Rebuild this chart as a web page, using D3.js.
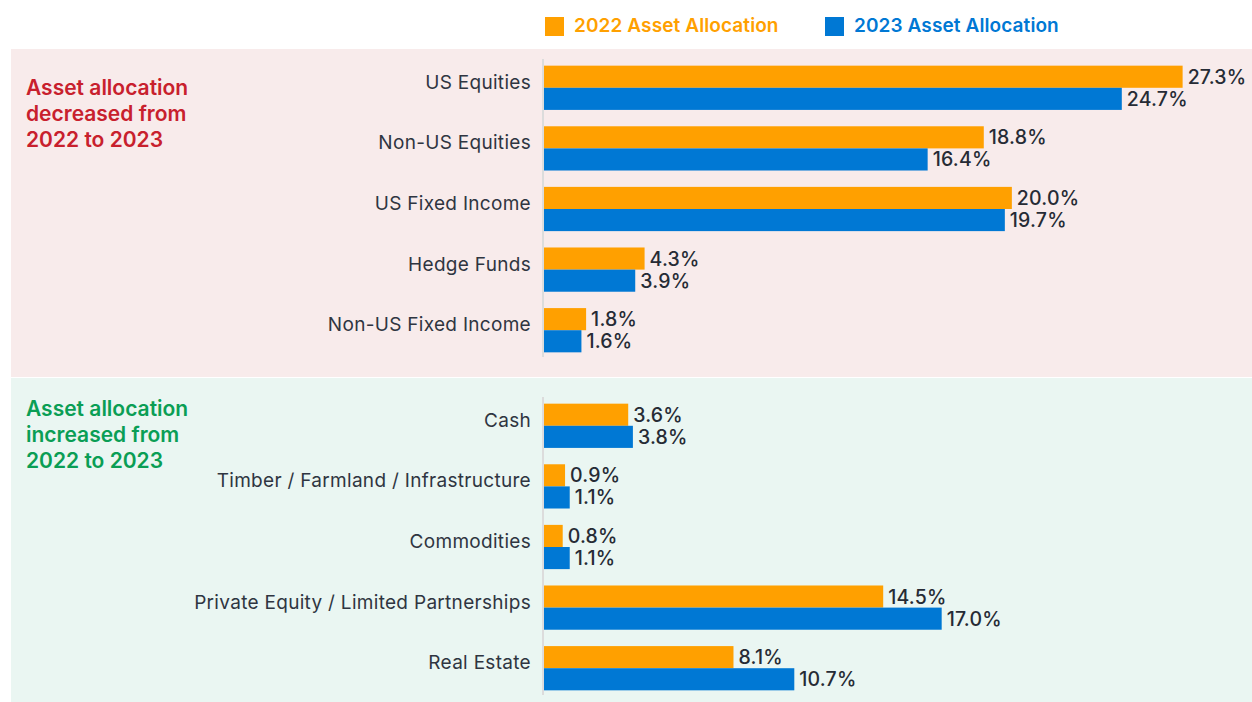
<!DOCTYPE html>
<html>
<head>
<meta charset="utf-8">
<script src="https://cdn.jsdelivr.net/npm/d3@7"></script>
<style>
  body { margin: 0; background: #fff; }
  svg { display: block; font-family: Inter, "Open Sans", sans-serif; }
</style>
</head>
<body>
<div id="chart"></div>
<script>
// data
var decreasedCats = ["US Equities", "Non-US Equities", "US Fixed Income", "Hedge Funds", "Non-US Fixed Income"];
var decreased2022 = [27.3, 18.8, 20.0, 4.3, 1.8];
var decreased2023 = [24.7, 16.4, 19.7, 3.9, 1.6];

var increasedCats = ["Cash", "Timber / Farmland / Infrastructure", "Commodities", "Private Equity / Limited Partnerships", "Real Estate"];
var increased2022 = [3.6, 0.9, 0.8, 14.5, 8.1];
var increased2023 = [3.8, 1.1, 1.1, 17.0, 10.7];

var seriesNames = ["2022 Asset Allocation", "2023 Asset Allocation"];
var seriesColors = ["#ffa000", "#0078d4"];

var width = 1252, height = 702;
var svg = d3.select('#chart').append('svg').attr('width', width).attr('height', height);

var x = d3.scaleLinear().domain([0, 28]).range([543, 1198]);

// legend
var legend = svg.append('g');
var legendX = [545, 825];
seriesNames.forEach(function(name, i){
    legend.append('rect').attr('x', legendX[i]).attr('y', 17).attr('width', 19).attr('height', 19)
        .style('fill', seriesColors[i]);
    legend.append('text').attr('x', legendX[i] + 29).attr('y', 32)
        .style('fill', seriesColors[i]).style('font-size', '19px').style('font-weight', 600)
        .style('letter-spacing', '0.1px')
        .text(name);
});

function panel(cfg){
    var g = svg.append('g');
    g.append('rect').attr('x', 11).attr('y', cfg.top).attr('width', width - 11).attr('height', cfg.bottom - cfg.top)
        .style('fill', cfg.bg);

    // section title
    var t = g.append('text').attr('x', 26).attr('y', cfg.titleY)
        .style('fill', cfg.titleColor).style('font-size', '21px').style('font-weight', 600);
    cfg.title.forEach(function(line, i){
        t.append('tspan').attr('x', 26).attr('dy', i === 0 ? 0 : 26).text(line);
    });

    var y = d3.scaleBand().domain(cfg.cats).range([cfg.y0, cfg.y0 + 300])
        .paddingInner(0.27).paddingOuter(0.11);
    var ySub = d3.scaleBand().domain([0, 1]).range([0, y.bandwidth()]);

    // axis line
    g.append('line').attr('x1', x(0)).attr('x2', x(0)).attr('y1', cfg.y0).attr('y2', cfg.y0 + 298)
        .style('stroke', '#dcdcdc').style('stroke-width', 2);

    var rows = cfg.cats.map(function(c, i){ return {cat: c, vals: [cfg.v2022[i], cfg.v2023[i]]}; });

    var row = g.selectAll('g.row').data(rows).enter().append('g').attr('class', 'row')
        .attr('transform', function(d){ return 'translate(0,' + y(d.cat) + ')'; });

    row.append('text')
        .attr('x', 531).attr('y', ySub.step() + 1)
        .attr('text-anchor', 'end')
        .style('fill', '#2f3541').style('font-size', '19px').style('letter-spacing', '0.3px')
        .text(function(d){ return d.cat; });

    var bar = row.selectAll('g.bar').data(function(d){ return d.vals; }).enter().append('g');
    bar.append('rect')
        .attr('x', x(0) + 1)
        .attr('y', function(d, i){ return ySub(i); })
        .attr('width', function(d){ return x(d) - x(0); })
        .attr('height', ySub.bandwidth())
        .style('fill', function(d, i){ return seriesColors[i]; });
    bar.append('text')
        .attr('x', function(d){ return x(d) + 6; })
        .attr('y', function(d, i){ return ySub(i) + ySub.bandwidth() / 2 + 7; })
        .style('fill', '#262b35').style('font-size', '19.5px').style('font-weight', 500)
        .style('letter-spacing', '0.2px')
        .text(function(d){ return d.toFixed(1) + '%'; });
}

panel({top: 49, bottom: 377, bg: '#f8ebeb', title: ["Asset allocation", "decreased from", "2022 to 2023"],
       titleY: 95, titleColor: '#c8202d', cats: decreasedCats, v2022: decreased2022, v2023: decreased2023, y0: 59});
panel({top: 378, bottom: 702, bg: '#eaf6f2', title: ["Asset allocation", "increased from", "2022 to 2023"],
       titleY: 416, titleColor: '#0a9e55', cats: increasedCats, v2022: increased2022, v2023: increased2023, y0: 397});
</script>
</body>
</html>
